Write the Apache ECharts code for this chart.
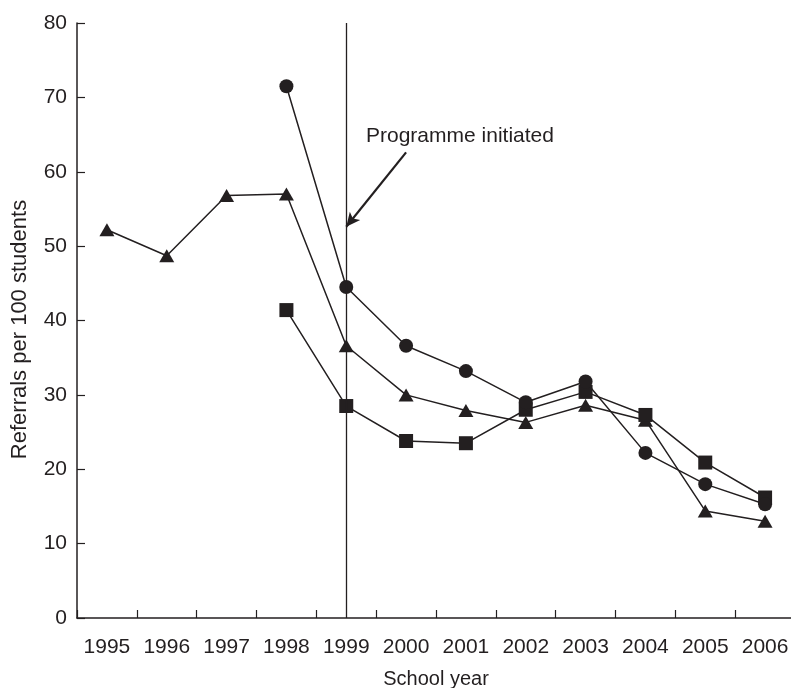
<!DOCTYPE html>
<html>
<head>
<meta charset="utf-8">
<script src="https://cdn.jsdelivr.net/npm/echarts@6/dist/echarts.min.js"></script>
<style>
  html, body { margin: 0; padding: 0; background: #ffffff; }
  #chart { width: 791px; height: 688px; }
</style>
</head>
<body>
<div id="chart"></div>
<script>
const years = ['1995','1996','1997','1998','1999','2000','2001','2002','2003','2004','2005','2006'];
const circleSeries   = [null, null, null, 71.5, 44.5, 36.6, 33.2, 29.0, 31.8, 22.2, 18.0, 15.3];
const triangleSeries = [52.2, 48.7, 56.8, 57.0, 36.6, 30.0, 27.9, 26.3, 28.6, 26.6, 14.4, 13.0];
const squareSeries   = [null, null, null, 41.4, 28.5, 23.8, 23.5, 28.0, 30.4, 27.3, 20.9, 16.2];
const yTicks = { min: 0, max: 80, interval: 10 };
const programmeYear = '1999';
const annotationText = 'Programme initiated';
const arrowFrom = ['2000', 62.6];
const arrowTo = ['1999', 52.6];

const ink = '#231f20';
const font = 'Liberation Sans, Arial, Helvetica, sans-serif';

const chart = echarts.init(document.getElementById('chart'), null, { renderer: 'canvas' });

function lineSeries(name, data, symbol, size, z) {
  return {
    name: name,
    type: 'line',
    data: data,
    symbol: symbol,
    symbolSize: size,
    showSymbol: true,
    connectNulls: false,
    z: z,
    lineStyle: { color: ink, width: 1.5 },
    itemStyle: { color: ink, borderWidth: 0 },
    emphasis: { disabled: true }
  };
}

const option = {
  animation: false,
  backgroundColor: '#ffffff',
  textStyle: { fontFamily: font, color: ink },
  grid: { left: 77, top: 23, width: 718, height: 595, containLabel: false, outerBoundsMode: 'none' },
  xAxis: {
    type: 'category',
    data: years,
    boundaryGap: true,
    name: 'School year',
    nameLocation: 'middle',
    nameGap: 51,
    nameTextStyle: { fontSize: 20, color: ink, fontFamily: font },
    axisLine: { show: true, lineStyle: { color: ink, width: 1.5 } },
    axisTick: { show: true, inside: true, length: 8, interval: 0, lineStyle: { color: ink, width: 1.2 } },
    axisLabel: { fontSize: 21, color: ink, margin: 19, interval: 0, hideOverlap: false, fontFamily: font },
    splitLine: { show: false }
  },
  yAxis: {
    type: 'value',
    min: yTicks.min,
    max: yTicks.max,
    interval: yTicks.interval,
    name: 'Referrals per 100 students',
    nameLocation: 'middle',
    nameRotate: 90,
    nameGap: 46,
    nameTextStyle: { fontSize: 22, color: ink, fontFamily: font, padding: [0, 18, 0, 0] },
    axisLine: { show: true, lineStyle: { color: ink, width: 1.5 } },
    axisTick: { show: true, inside: true, length: 8, lineStyle: { color: ink, width: 1.2 } },
    axisLabel: { fontSize: 21, color: ink, margin: 10, fontFamily: font },
    splitLine: { show: false }
  },
  series: [
    Object.assign(lineSeries('Triangle', triangleSeries, 'triangle', [15, 13], 2), {
      markLine: {
        silent: true,
        symbol: ['none', 'none'],
        label: { show: false },
        lineStyle: { color: ink, width: 1.3, type: 'solid' },
        data: [{ xAxis: programmeYear }]
      }
    }),
    lineSeries('Square', squareSeries, 'rect', 14, 3),
    Object.assign(lineSeries('Circle', circleSeries, 'circle', 14, 4), {
      markLine: {
        silent: true,
        symbol: ['none', 'arrow'],
        symbolSize: [10, 14],
        label: { show: false },
        lineStyle: { color: ink, width: 2.2, type: 'solid' },
        data: [[{ coord: arrowFrom }, { coord: arrowTo }]]
      }
    })
  ],
  graphic: [
    {
      type: 'text',
      left: 366,
      top: 126,
      style: { text: annotationText, font: '21px ' + font, fill: ink }
    }
  ]
};

chart.setOption(option);
</script>
</body>
</html>
